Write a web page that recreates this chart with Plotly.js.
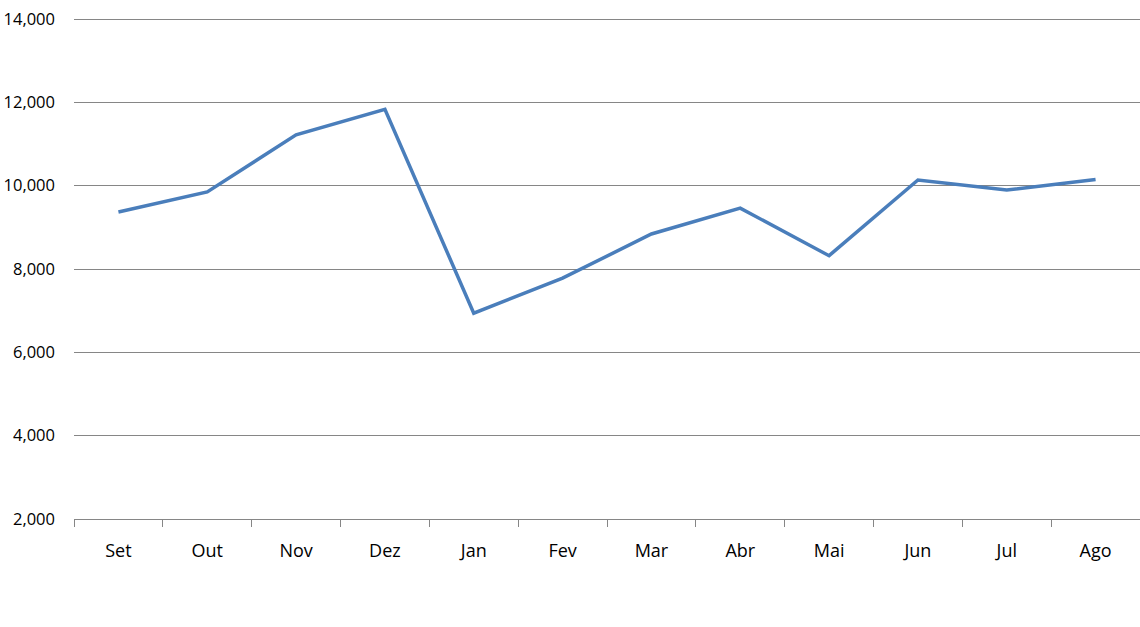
<!DOCTYPE html>
<html>
<head>
<meta charset="utf-8">
<script src="https://cdn.plot.ly/plotly-3.0.1.min.js"></script>
<style>html,body{margin:0;padding:0;background:#fff;}#chart{width:1140px;height:627px;}</style>
</head>
<body>
<div id="chart"></div>
<script>
const months = ["Set","Out","Nov","Dez","Jan","Fev","Mar","Abr","Mai","Jun","Jul","Ago"];
const values = [9370, 9850, 11220, 11830, 6940, 7780, 8840, 9460, 8320, 10135, 9895, 10150];
const yTicks = [2000, 4000, 6000, 8000, 10000, 12000, 14000];

const trace = {
  x: months,
  y: values,
  type: "scatter",
  mode: "lines",
  line: {color: "#4A7EBB", width: 3.5},
  hoverinfo: "x+y"
};

const layout = {
  width: 1140,
  height: 627,
  margin: {l: 74, r: 0, t: 17, b: 108},
  paper_bgcolor: "#ffffff",
  plot_bgcolor: "#ffffff",
  showlegend: false,
  font: {family: "Open Sans, Noto Sans, sans-serif", size: 16, color: "#000000"},
  xaxis: {
    type: "category",
    range: [-0.5, 11.5],
    showgrid: false,
    showline: true,
    linecolor: "#868686",
    linewidth: 1,
    ticks: "outside",
    tickson: "boundaries",
    ticklen: 7,
    tickcolor: "#868686",
    tickwidth: 1,
    ticklabelstandoff: 15,
    tickfont: {size: 18},
    zeroline: false
  },
  yaxis: {
    range: [2000, 14048],
    tickvals: yTicks,
    tickformat: ",d",
    showgrid: true,
    gridcolor: "#868686",
    gridwidth: 1,
    showline: false,
    zeroline: false,
    ticks: "",
    ticklabelstandoff: 18,
    tickfont: {size: 16.5}
  }
};

Plotly.newPlot("chart", [trace], layout, {displayModeBar: false, staticPlot: true});
</script>
</body>
</html>
